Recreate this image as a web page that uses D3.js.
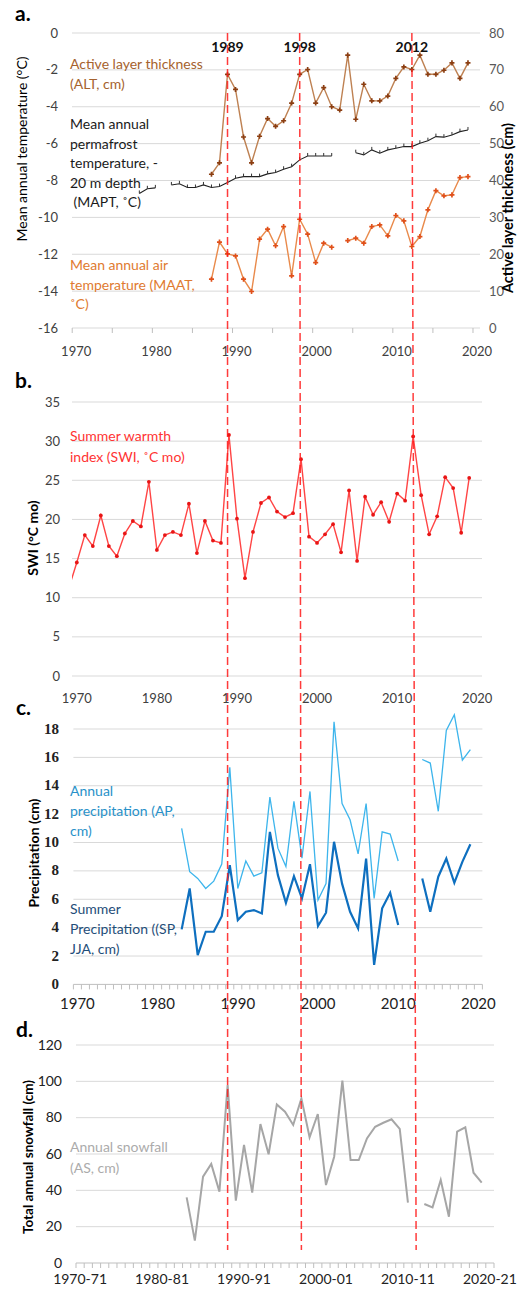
<!DOCTYPE html>
<html><head><meta charset="utf-8">
<script src="https://cdn.jsdelivr.net/npm/d3@7"></script>
<style>
body{margin:0;background:#fff}
svg{display:block}
text{font-family:Lato,'Open Sans',sans-serif}
</style>
</head><body>
<svg id="chart" width="518" height="1289"></svg>
<script>
// ---------------- DATA ----------------
const eventYears = [1989, 1998, 2012];

// Panel a
const altYears = d3.range(1987, 2020);
const altValues = [41.7,44.8,68.8,64.7,51.8,44.8,52,56.8,54.7,56.2,61,68.8,70.1,61,65.2,60,59.1,74,56.6,66.1,61.6,61.6,62.9,67.7,70.8,70.1,74,68.8,68.8,69.9,71.9,67.7,71.9];
const maptYears = d3.range(1978, 2020);
const maptValues = [-8.7,-8.45,-8.4,null,-8.24,-8.18,-8.38,-8.38,-8.24,-8.38,-8.33,-8.11,-7.88,-7.79,-7.79,-7.79,-7.64,-7.57,-7.39,-7.25,-6.88,-6.67,-6.67,-6.67,-6.67,null,null,-6.49,-6.61,-6.34,-6.52,-6.34,-6.25,-6.16,-6.16,-5.98,-5.84,-5.62,-5.65,-5.53,-5.35,-5.26];
const maatYears = d3.range(1987, 2020);
const maatValues = [-13.35,-11.34,-11.98,-12.09,-13.35,-14.02,-11.18,-10.64,-11.54,-10.5,-13.17,-10.1,-10.91,-12.45,-11.4,-11.62,null,-11.26,-11.13,-11.4,-10.5,-10.41,-11.0,-9.9,-10.19,-11.58,-11.04,-9.59,-8.55,-8.83,-8.78,-7.84,-7.79];
const aLeftTicks = [0,-2,-4,-6,-8,-10,-12,-14,-16];
const aRightTicks = [0,10,20,30,40,50,60,70,80];
const yearTickLabels = [1970,1980,1990,2000,2010,2020];

// Panel b
const swiYears = d3.range(1969, 2020);
const swiValues = [11.2,14.5,18.0,16.6,20.5,16.6,15.3,18.2,19.8,19.1,24.8,16.1,18.0,18.4,18.0,22.0,15.7,19.8,17.3,17.0,30.8,20.1,12.5,18.4,22.1,22.8,21.0,20.3,20.8,27.7,17.8,17.0,18.1,19.4,15.8,23.7,14.7,22.9,20.6,22.2,19.7,23.3,22.4,30.6,23.1,18.1,20.4,25.4,24.0,18.3,25.3];
const bTicks = [0,5,10,15,20,25,30,35];

// Panel c
const precipCategories = d3.range(1970, 2021);
const precipYears = d3.range(1983, 2020);
const apValues = [11.0,7.94,7.47,6.76,7.28,8.48,15.3,6.76,8.7,7.63,7.87,13.2,9.6,8.3,12.9,8.9,13.6,5.95,7.1,18.5,12.75,11.6,9.2,12.75,6.06,10.75,10.6,8.7,null,null,15.85,15.6,12.2,17.9,19.0,15.8,16.55];
const spValues = [3.88,6.76,2.07,3.71,3.71,4.81,8.4,4.53,5.12,5.24,5.0,10.75,7.7,5.75,7.63,6.06,8.47,4.11,5.05,10.05,7.1,5.12,3.95,8.87,1.37,5.36,6.46,4.18,null,null,7.47,5.12,7.59,8.87,7.16,8.64,9.88];
const cTicks = [0,2,4,6,8,10,12,14,16,18];

// Panel d
const seasonLabels = d3.range(1970, 2021).map(y => y + "-" + String((y + 1) % 100).padStart(2, "0"));
const snowSeasons = seasonLabels.slice(13, 50);
const snowValues = [36.1,12.3,47.5,54.5,39.3,98,34.3,65,38.7,76.5,59.8,87.3,83.3,76.0,90.6,69.2,82.0,42.9,58.5,100.4,56.7,56.7,68.6,75,77.2,79.1,73.8,33.2,null,32.5,30.6,45.7,25.5,72.3,74.7,49.7,44.2];
const dTicks = [0,20,40,60,80,100,120];
const seasonTickLabels = ["1970-71","1980-81","1990-91","2000-01","2010-11","2020-21"];

// ---------------- DRAW ----------------
const svg = d3.select("#chart");
const GRID = "#D9D9D9";
const TICKC = "#404040";

function pts(xs, vs, fx, fy) { return xs.map((x, i) => ({x: fx(x), y: vs[i] == null ? null : fy(vs[i]), v: vs[i]})); }
const lineGen = d3.line().defined(d => d.v != null).x(d => d.x).y(d => d.y);

function hGrid(g, ticks, yS, x0, x1) {
  g.selectAll(null).data(ticks).join("line")
    .attr("x1", x0).attr("x2", x1).attr("y1", d => yS(d)).attr("y2", d => yS(d))
    .attr("stroke", GRID).attr("stroke-width", 1);
}
function yLabels(g, ticks, yS, x, opts = {}) {
  g.selectAll(null).data(ticks).join("text")
    .attr("x", x).attr("y", d => yS(d) + 4.5).attr("text-anchor", opts.anchor || "end")
    .attr("font-size", opts.size || 13).attr("fill", opts.fill || TICKC)
    .attr("font-weight", opts.weight || "normal")
    .style("font-family", opts.family || null)
    .text(d => d);
}
function vTitle(text, x, y, size, weight, fill) {
  svg.append("text").attr("transform", `translate(${x},${y}) rotate(-90)`)
    .attr("text-anchor", "middle").attr("font-size", size).attr("font-weight", weight)
    .attr("fill", fill || "#000").text(text);
}
function note(lines, x, y0, lh, fill, size) {
  const t = svg.append("text").attr("font-size", size || 14).attr("fill", fill);
  lines.forEach((l, i) => t.append("tspan").attr("x", x).attr("y", y0 + i * lh).text(l));
}
function panelLabel(t, x, y) {
  svg.append("text").attr("x", x).attr("y", y).attr("font-size", 21).attr("font-weight", "bold").text(t);
}

// ===== Panel a =====
const xa = d3.scaleLinear().domain([1969.6, 2020.5]).range([72, 480]);
const yaL = d3.scaleLinear().domain([-16, 0]).range([328, 33]);
const yaR = d3.scaleLinear().domain([0, 80]).range([328, 33]);
const ga = svg.append("g");
hGrid(ga, aLeftTicks, yaL, 72, 480);
yLabels(ga, aLeftTicks, yaL, 58);
yLabels(ga, aRightTicks, yaR, 489, {anchor: "start", fill: "#595959"});
ga.selectAll(null).data(d3.range(1970, 2021, 5)).join("line")
  .attr("x1", d => xa(d) - 3).attr("x2", d => xa(d) - 3).attr("y1", 328).attr("y2", 333)
  .attr("stroke", "#BFBFBF");
ga.selectAll(null).data(yearTickLabels).join("text")
  .attr("x", d => xa(d) + 1).attr("y", 356).attr("text-anchor", "middle")
  .attr("font-size", 13).attr("fill", TICKC).text(d => d);

const altPts = pts(altYears, altValues, xa, yaR);
const maptPts = pts(maptYears, maptValues, xa, yaL);
const maatPts = pts(maatYears, maatValues, xa, yaL);
ga.append("path").attr("d", lineGen(altPts)).attr("fill", "none").attr("stroke", "#BE8152").attr("stroke-width", 1.4);
ga.append("path").attr("d", lineGen(maptPts)).attr("fill", "none").attr("stroke", "#222").attr("stroke-width", 1.1);
ga.append("path").attr("d", lineGen(maatPts)).attr("fill", "none").attr("stroke", "#E98A4B").attr("stroke-width", 1.4);
const cross = d3.symbol().type(d3.symbolCross).size(14);
ga.selectAll(null).data(altPts.filter(d => d.v != null)).join("path")
  .attr("d", cross).attr("transform", d => `translate(${d.x},${d.y})`).attr("fill", "#8B3E12");
ga.selectAll(null).data(maatPts.filter(d => d.v != null)).join("path")
  .attr("d", cross).attr("transform", d => `translate(${d.x},${d.y})`).attr("fill", "#E0501A");
ga.selectAll(null).data(maptPts.filter(d => d.v != null)).join("line")
  .attr("x1", d => d.x).attr("x2", d => d.x).attr("y1", d => d.y - 3).attr("y2", d => d.y)
  .attr("stroke", "#333").attr("stroke-width", 1);

vTitle("Mean annual temperature (°C)", 27, 149, 14, "normal");
vTitle("Active layer thickness (cm)", 513, 208, 14.5, "bold");
note(["Active layer thickness", "(ALT, cm)"], 70, 69, 20, "#A5622E");
note(["Mean annual", "permafrost", "temperature, -", "20 m depth", " (MAPT, ˚C)"], 70, 129, 19.6, "#1a1a1a");
note(["Mean annual air", "temperature (MAAT,", "˚C)"], 70, 270, 19.5, "#E07A30");
panelLabel("a.", 15, 21);

// ===== Panel b =====
const xb = d3.scaleLinear().domain([1969.4, 2020.6]).range([72, 482]);
const yb = d3.scaleLinear().domain([0, 35]).range([676, 402]);
const gb = svg.append("g");
svg.append("clipPath").attr("id", "clipb").append("rect").attr("x", 72).attr("y", 390).attr("width", 410).attr("height", 300);
hGrid(gb, bTicks, yb, 72, 482);
yLabels(gb, bTicks, yb, 60);
gb.selectAll(null).data(yearTickLabels).join("text")
  .attr("x", d => xb(d)).attr("y", 703).attr("text-anchor", "middle")
  .attr("font-size", 13).attr("fill", TICKC).text(d => d);
const swiPts = pts(swiYears, swiValues, xb, yb);
gb.append("path").attr("d", lineGen(swiPts)).attr("fill", "none").attr("stroke", "#FF4545").attr("stroke-width", 1.4)
  .attr("clip-path", "url(#clipb)");
gb.selectAll(null).data(swiPts.filter(d => d.x >= 74)).join("circle")
  .attr("cx", d => d.x).attr("cy", d => d.y).attr("r", 1.9).attr("fill", "#E81515");
vTitle("SWI (°C mo)", 38, 538, 14, "bold");
note(["Summer warmth", "index (SWI, ˚C mo)"], 70, 441, 20.5, "#FF3333");
panelLabel("b.", 15, 388);

// ===== Panel c =====
const xc = d3.scaleBand().domain(precipCategories).range([73.4, 482.4]);
const yc = d3.scaleLinear().domain([0, 18]).range([984.4, 729]);
const cx = d => xc(d) + xc.bandwidth() / 2;
const gc = svg.append("g");
hGrid(gc, cTicks.filter(d => d > 0), yc, 73.4, 482.4);
gc.append("line").attr("x1", 73.4).attr("x2", 482.4).attr("y1", yc(0)).attr("y2", yc(0)).attr("stroke", "#BFBFBF");
gc.selectAll(null).data(d3.range(0, 52)).join("line")
  .attr("x1", i => 73.4 + i * xc.bandwidth()).attr("x2", i => 73.4 + i * xc.bandwidth())
  .attr("y1", yc(0)).attr("y2", yc(0) + 5).attr("stroke", "#BFBFBF");
yLabels(gc, cTicks, yc, 59, {weight: "bold", size: 15, fill: "#222", family: "'Liberation Serif', serif"});
gc.selectAll(null).data(yearTickLabels).join("text")
  .attr("x", d => cx(d)).attr("y", 1009).attr("text-anchor", "middle")
  .attr("font-size", 15).attr("fill", "#222").text(d => d);
const apPts = pts(precipYears, apValues, cx, yc);
const spPts = pts(precipYears, spValues, cx, yc);
gc.append("path").attr("d", lineGen(apPts)).attr("fill", "none").attr("stroke", "#3DB5EC").attr("stroke-width", 1.3);
gc.append("path").attr("d", lineGen(spPts)).attr("fill", "none").attr("stroke", "#0E6FBF").attr("stroke-width", 2.2);
vTitle("Precipitation (cm)", 39, 853, 14, "bold");
note(["Annual", "precipitation (AP,", "cm)"], 70, 796, 20, "#2891C9");
note(["Summer", "Precipitation ((SP,", "JJA, cm)"], 70, 914, 20, "#1F4E79");
panelLabel("c.", 16, 715);

// ===== Panel d =====
const xd = d3.scaleBand().domain(seasonLabels).range([76, 494]);
const yd = d3.scaleLinear().domain([0, 120]).range([1263, 1045]);
const dx = d => xd(d) + xd.bandwidth() / 2;
const gd = svg.append("g");
hGrid(gd, dTicks.filter(d => d > 0), yd, 76, 494);
gd.append("line").attr("x1", 76).attr("x2", 494).attr("y1", yd(0)).attr("y2", yd(0)).attr("stroke", "#BFBFBF");
gd.selectAll(null).data(d3.range(0, 52)).join("line")
  .attr("x1", i => 76 + i * xd.bandwidth()).attr("x2", i => 76 + i * xd.bandwidth())
  .attr("y1", yd(0)).attr("y2", yd(0) + 5).attr("stroke", "#BFBFBF");
yLabels(gd, dTicks, yd, 62, {size: 14, fill: "#222"});
gd.selectAll(null).data(seasonTickLabels).join("text")
  .attr("x", d => dx(d)).attr("y", 1284).attr("text-anchor", "middle")
  .attr("font-size", 14).attr("fill", "#222").text(d => d);
const snowPts = pts(snowSeasons, snowValues, dx, yd);
gd.append("path").attr("d", lineGen(snowPts)).attr("fill", "none").attr("stroke", "#A6A6A6").attr("stroke-width", 2);
vTitle("Total annual snowfall (cm)", 33, 1157, 13.5, "bold");
note(["Annual snowfall", "(AS, cm)"], 70, 1152, 21, "#ABABAB");
panelLabel("d.", 16, 1037);

// ===== Event dashed lines =====
const ge = svg.append("g");
eventYears.forEach(y => {
  const season = (y - 1) + "-" + String(y % 100).padStart(2, "0");
  ge.append("line").attr("x1", xa(y)).attr("y1", 33).attr("x2", dx(season)).attr("y2", 1250)
    .attr("stroke", "#FF1A1A").attr("stroke-width", 1.5).attr("stroke-dasharray", "8,4").attr("opacity", 0.85);
  ge.append("text").attr("x", xa(y)).attr("y", 52).attr("text-anchor", "middle")
    .attr("font-size", 14).attr("font-weight", "bold").attr("fill", "#111").text(y);
});
</script>
</body></html>
